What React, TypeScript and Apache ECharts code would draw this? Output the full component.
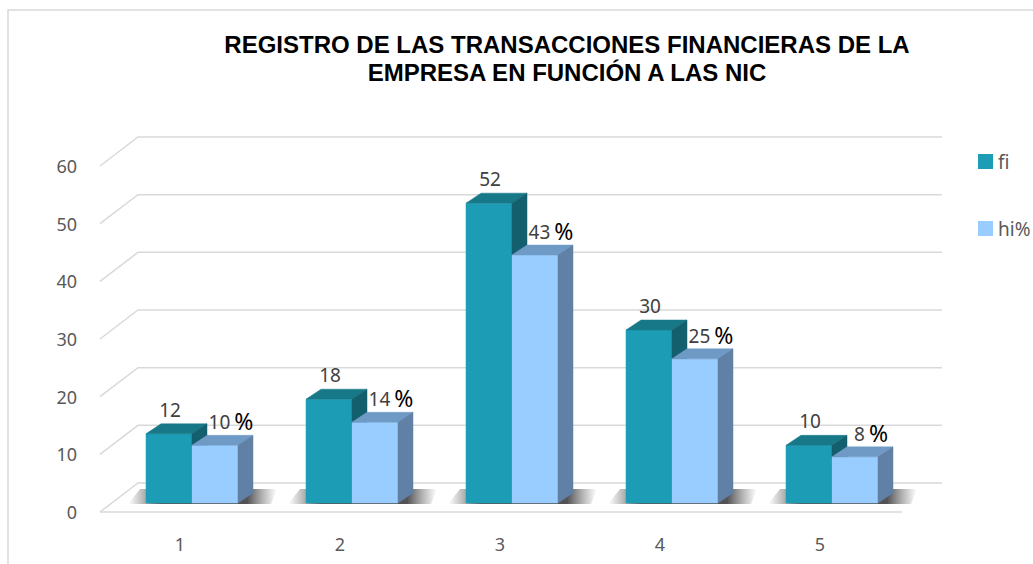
import React, { useEffect, useRef } from "react";
import * as echarts from "echarts";

const categories = ["1", "2", "3", "4", "5"];
const fiValues = [12, 18, 52, 30, 10];
const hiValues = [10, 14, 43, 25, 8];
const yTicks = [0, 10, 20, 30, 40, 50, 60];
const titleText = "REGISTRO DE LAS TRANSACCIONES FINANCIERAS DE LA\nEMPRESA EN FUNCIÓN A LAS NIC";

const FONT = "'Noto Sans', 'Open Sans', sans-serif";
const GRID_COLOR = "#D9D9D9";
const WALL_DX = 38;
const WALL_DY = -29;
const BAR_DX = 12;
const BAR_DY = -9;
const DEPTH_DX = 15;
const DEPTH_DY = -10;
const BAR_W = 46;

const FI = { front: "#1C9CB5", top: "#177888", side: "#135F6D" };
const HI = { front: "#99CCFF", top: "#6F9AC6", side: "#6080A6" };

function box(x0: number, x1: number, yTop: number, yBase: number, c: any) {
  return [
    {
      type: "polygon",
      shape: { points: [[x0, yBase], [x1, yBase], [x1, yTop], [x0, yTop]] },
      style: { fill: c.front, stroke: c.front, lineWidth: 0.5 },
    },
    {
      type: "polygon",
      shape: {
        points: [
          [x0, yTop],
          [x1, yTop],
          [x1 + DEPTH_DX, yTop + DEPTH_DY],
          [x0 + DEPTH_DX, yTop + DEPTH_DY],
        ],
      },
      style: { fill: c.top, stroke: c.top, lineWidth: 0.5 },
    },
    {
      type: "polygon",
      shape: {
        points: [
          [x1, yBase],
          [x1 + DEPTH_DX, yBase + DEPTH_DY],
          [x1 + DEPTH_DX, yTop + DEPTH_DY],
          [x1, yTop],
        ],
      },
      style: { fill: c.side, stroke: c.side, lineWidth: 0.5 },
    },
  ];
}

export default function App() {
  const ref = useRef<HTMLDivElement>(null);

  useEffect(() => {
    document.body.style.margin = "0";
    const chart = echarts.init(ref.current!, undefined, { renderer: "svg" });

    const gridRender = (params: any, api: any) => {
      const v = api.value(0);
      const cs = params.coordSys;
      const y = api.coord([0, v])[1];
      const x0 = cs.x;
      const x1 = cs.x + cs.width;
      const children: any[] = [
        {
          type: "polyline",
          shape: {
            points: [
              [x0, y],
              [x0 + WALL_DX, y + WALL_DY],
              [x1 + WALL_DX + 4, y + WALL_DY],
            ],
          },
          style: { stroke: GRID_COLOR, lineWidth: 1.5, fill: null },
        },
      ];
      if (v === 0) {
        children.push({
          type: "line",
          shape: { x1: x0, y1: y, x2: x1 + 2, y2: y },
          style: { stroke: GRID_COLOR, lineWidth: 1.5 },
        });
      }
      return { type: "group", children };
    };

    const shadowRender = (params: any, api: any) => {
      const idx = api.value(0);
      const base = api.coord([idx, 0]);
      const gx = base[0] + BAR_DX;
      const yb = base[1] + BAR_DY;
      const l = gx - BAR_W - 22;
      const r = gx + BAR_W + DEPTH_DX + 24;
      return {
        type: "polygon",
        shape: {
          points: [
            [l + 4, yb + 1],
            [r - 6, yb + 1],
            [r, yb - 14],
            [l + 16, yb - 14],
          ],
        },
        style: {
          fill: new echarts.graphic.LinearGradient(0, 0, 1, 0, [
            { offset: 0, color: "rgba(80,80,80,0)" },
            { offset: 0.22, color: "rgba(40,40,40,0.8)" },
            { offset: 0.8, color: "rgba(40,40,40,0.8)" },
            { offset: 1, color: "rgba(80,80,80,0)" },
          ]),
        },
      };
    };

    const barRender = (which: "fi" | "hi") => (params: any, api: any) => {
      const idx = api.value(0);
      const v = api.value(1);
      const top = api.coord([idx, v]);
      const base = api.coord([idx, 0]);
      const gx = base[0] + BAR_DX;
      const yb = base[1] + BAR_DY;
      const yt = top[1] + BAR_DY;
      const x0 = which === "fi" ? gx - BAR_W : gx;
      const x1 = x0 + BAR_W;
      const c = which === "fi" ? FI : HI;
      const children: any[] = box(x0, x1, yt, yb, c);
      if (which === "fi") {
        children.push({
          type: "text",
          x: (x0 + x1) / 2 + 1,
          y: yt + DEPTH_DY - 14,
          style: {
            text: String(v),
            fill: "#404040",
            fontSize: 19,
            fontFamily: FONT,
            align: "center",
            verticalAlign: "middle",
          },
        });
      } else {
        children.push({
          type: "text",
          x: (x0 + x1) / 2 + 16,
          y: yt + DEPTH_DY - 13,
          style: {
            text: `{a|${v}}{b|%}`,
            align: "center",
            verticalAlign: "middle",
            rich: {
              a: { fontSize: 19, fill: "#404040", fontFamily: FONT },
              b: { fontSize: 23, fill: "#000000", fontFamily: FONT, padding: [0, 0, 2, 4] },
            },
          },
        });
      }
      return { type: "group", children };
    };

    chart.setOption({
      animation: false,
      title: {
        text: titleText,
        left: 562,
        top: 25,
        textAlign: "center",
        textStyle: {
          fontFamily: "'Liberation Sans', Arial, sans-serif",
          fontWeight: "bold",
          fontSize: 24,
          lineHeight: 28,
          color: "#000000",
        },
      },
      legend: {
        orient: "vertical",
        left: 973,
        top: 147,
        itemWidth: 15,
        itemHeight: 15,
        itemGap: 48,
        icon: "rect",
        data: ["fi", "hi%"],
        textStyle: { fontSize: 19, color: "#595959", fontFamily: FONT },
      },
      grid: { left: 100, right: 133, top: 166, bottom: 52 },
      xAxis: {
        type: "category",
        data: categories,
        axisLine: { show: false },
        axisTick: { show: false },
        axisLabel: { fontSize: 18, color: "#595959", fontFamily: FONT, margin: 23 },
      },
      yAxis: {
        type: "value",
        min: 0,
        max: 60,
        interval: 10,
        axisLine: { show: false },
        axisTick: { show: false },
        splitLine: { show: false },
        axisLabel: { fontSize: 18, color: "#595959", fontFamily: FONT, margin: 23 },
      },
      graphic: [
        {
          type: "rect",
          shape: { x: 8, y: 10, width: 1040, height: 570 },
          style: { fill: "none", stroke: "#D9D9D9", lineWidth: 1.5 },
          silent: true,
          z: -10,
        },
      ],
      series: [
        {
          name: "grid",
          type: "custom",
          renderItem: gridRender,
          data: yTicks.map((t) => [t]),
          encode: { y: 0 },
          silent: true,
          z: 1,
        },
        {
          name: "shadow",
          type: "custom",
          renderItem: shadowRender,
          data: categories.map((_, i) => [i]),
          encode: { x: 0 },
          silent: true,
          z: 2,
        },
        {
          name: "fi",
          type: "custom",
          renderItem: barRender("fi"),
          data: fiValues.map((v, i) => [i, v]),
          encode: { x: 0, y: 1 },
          itemStyle: { color: FI.front },
          z: 3,
        },
        {
          name: "hi%",
          type: "custom",
          renderItem: barRender("hi"),
          data: hiValues.map((v, i) => [i, v]),
          encode: { x: 0, y: 1 },
          itemStyle: { color: HI.front },
          z: 4,
        },
      ],
    });

    return () => chart.dispose();
  }, []);

  return (
    <div
      ref={ref}
      style={{ position: "fixed", left: 0, top: 0, width: 1033, height: 564, background: "#fff" }}
    />
  );
}
